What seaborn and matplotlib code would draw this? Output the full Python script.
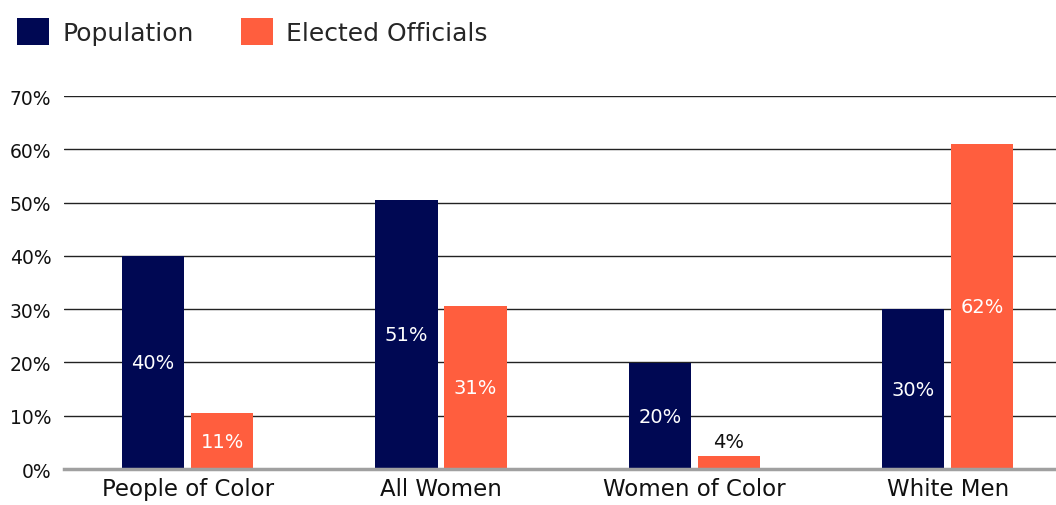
import matplotlib
matplotlib.use("Agg")
import matplotlib.pyplot as plt
import seaborn as sns
import pandas as pd

categories = ["People of Color", "All Women", "Women of Color", "White Men"]
series = ["Population", "Elected Officials"]
population = [40.0, 50.5, 19.9, 30.0]
elected = [10.5, 30.6, 2.4, 61.0]
population_labels = ["40%", "51%", "20%", "30%"]
elected_labels = ["11%", "31%", "4%", "62%"]
yticks = [0, 10, 20, 30, 40, 50, 60, 70]
ytick_labels = ["0%", "10%", "20%", "30%", "40%", "50%", "60%", "70%"]

colors = ["#000853", "#FF5E3E"]

sns.set_theme(style="white")
plt.rcParams["font.family"] = ["DejaVu Sans"]

df = pd.DataFrame({
    "category": categories * 2,
    "series": [series[0]] * 4 + [series[1]] * 4,
    "value": population + elected,
})

fig = plt.figure(figsize=(10.56, 5.06), dpi=100)
ax = fig.add_axes([0.0606, 0.0711, 0.9394, 0.7372])

sns.barplot(data=df, x="category", y="value", hue="series", hue_order=series,
            palette=colors, width=0.545, gap=0.10, saturation=1, ax=ax,
            errorbar=None, legend=True, zorder=3, linewidth=0)

ax.set_ylim(0, 70)
ax.set_xlim(-0.488, 3.427)
ax.set_yticks(yticks)
ax.set_yticklabels(ytick_labels, fontsize=13.5, color="#111111")
ax.tick_params(axis="x", labelsize=16.5, pad=6, length=0, colors="#111111")
ax.tick_params(axis="y", length=0, pad=9)
ax.set_xlabel("")
ax.set_ylabel("")
for y in yticks[1:]:
    ax.axhline(y, color="#222222", linewidth=1.0, zorder=1)
for s in ["top", "right", "left"]:
    ax.spines[s].set_visible(False)
ax.spines["bottom"].set_color("#A0A0A0")
ax.spines["bottom"].set_linewidth(2.5)
ax.spines["bottom"].set_zorder(4)

label_sets = [population_labels, elected_labels]
for cont, labs in zip(ax.containers, label_sets):
    for bar, lab in zip(cont, labs):
        h = bar.get_height()
        xc = bar.get_x() + bar.get_width() / 2
        if h < 5:
            ax.text(xc, h + 0.9, lab, ha="center", va="bottom", fontsize=14,
                    color="#111111", zorder=5)
        else:
            ax.text(xc, h / 2, lab, ha="center", va="center", fontsize=14,
                    color="white", zorder=5)

handles, lbls = ax.get_legend_handles_labels()
ax.get_legend().remove()
fig.legend(handles, lbls, loc="upper left", bbox_to_anchor=(-0.005, 1.006),
           ncol=2, frameon=False, fontsize=18, handlelength=1.28,
           handleheight=1.28, handletextpad=0.55, columnspacing=1.85)

fig.savefig("out.png", dpi=100)
